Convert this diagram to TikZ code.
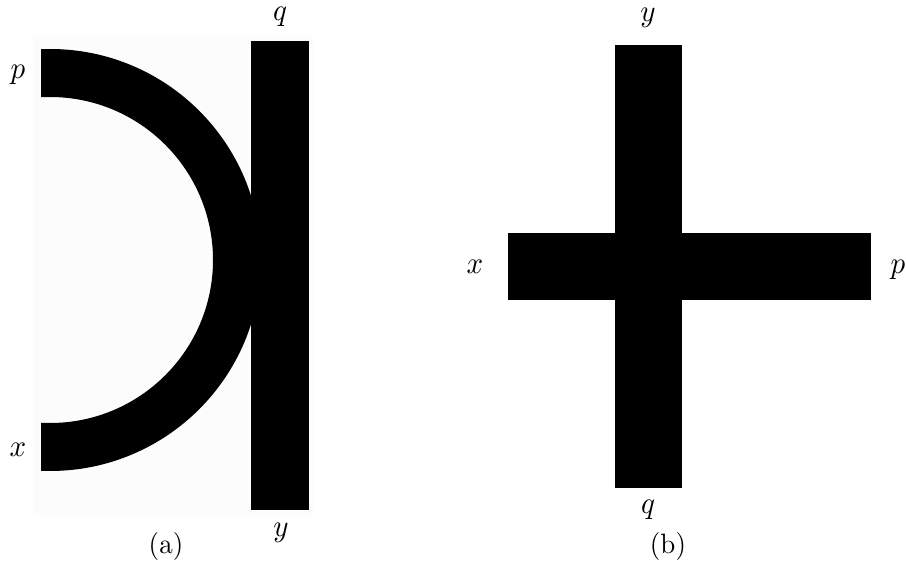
\documentclass[tikz,border=0pt]{standalone}
\begin{document}
\begin{tikzpicture}[x=1pt,y=-1pt,
  lbl/.style={inner sep=0pt}]
\useasboundingbox (0,0) rectangle (906,561);
% panel (a)
\fill[black!1] (33,35) rectangle (313,515);
\begin{scope}
  \clip (41,0) rectangle (320,561);
  \fill[black,even odd rule] (50,260) circle (211pt) (50,260) circle (163pt);
\end{scope}
\fill[black] (251,41) rectangle (309,510);
\node[lbl] (pa) at (18,75) {\scalebox{2.9}[3.1]{$p$}};
\node[lbl] (qa) at (280,17) {\scalebox{2.9}[3.1]{$q$}};
\node[lbl] (xa) at (18,450) {\scalebox{2.9}[3.1]{$x$}};
\node[lbl] (ya) at (281,533) {\scalebox{2.9}[3.1]{$y$}};
\node[lbl] (capa) at (166,546) {\scalebox{2.7}[2.8]{(a)}};
% panel (b)
\fill[black] (615,45) rectangle (682,488);
\fill[black] (508,233) rectangle (871,300);
\node[lbl] (yb) at (648,18) {\scalebox{2.9}[3.1]{$y$}};
\node[lbl] (xb) at (475,267) {\scalebox{2.9}[3.1]{$x$}};
\node[lbl] (pb) at (898,270) {\scalebox{2.9}[3.1]{$p$}};
\node[lbl] (qb) at (648,510) {\scalebox{2.9}[3.1]{$q$}};
\node[lbl] (capb) at (668,546) {\scalebox{2.7}[2.8]{(b)}};
\end{tikzpicture}
\end{document}
